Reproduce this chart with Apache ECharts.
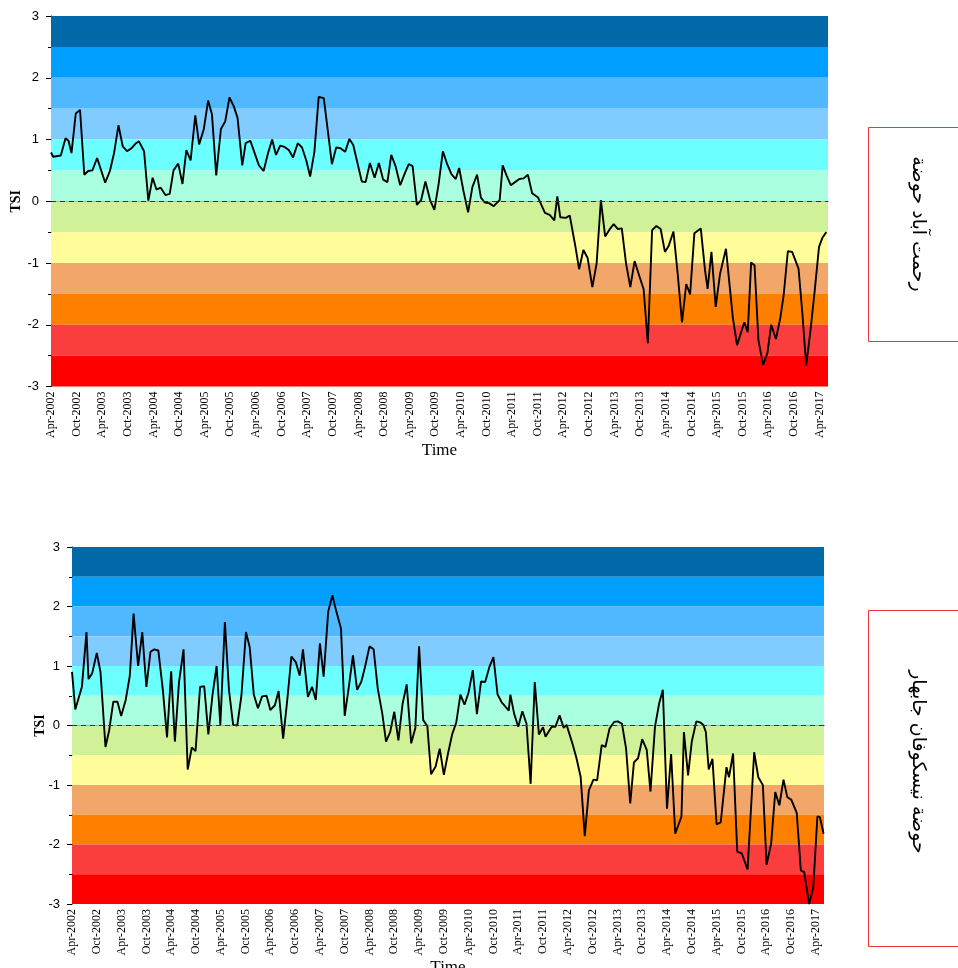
<!DOCTYPE html>
<html><head><meta charset="utf-8">
<script src="https://cdn.jsdelivr.net/npm/echarts@6/dist/echarts.min.js"></script>
<style>html,body{margin:0;padding:0;background:#fff}#c{width:958px;height:968px}</style>
</head><body><div id="c"></div>
<script>
// X tick labels every 6 months starting Apr-2002 (x values are months since Apr-2002)
const tickLabels = ['Apr-2002','Oct-2002','Apr-2003','Oct-2003','Apr-2004','Oct-2004','Apr-2005','Oct-2005','Apr-2006','Oct-2006','Apr-2007','Oct-2007','Apr-2008','Oct-2008','Apr-2009','Oct-2009','Apr-2010','Oct-2010','Apr-2011','Oct-2011','Apr-2012','Oct-2012','Apr-2013','Oct-2013','Apr-2014','Oct-2014','Apr-2015','Oct-2015','Apr-2016','Oct-2016','Apr-2017'];

// Drought classes (TSI bands)
const bandLow  = [2.5, 2, 1.5, 1, 0.5, 0, -0.5, -1, -1.5, -2, -2.5, -3];
const bandHigh = [3, 2.5, 2, 1.5, 1, 0.5, 0, -0.5, -1, -1.5, -2, -2.5];
const bandColors = ['#0169A8','#009FFF','#4FB8FF','#80CCFF','#6CFFFF','#AAFFE0','#D0F197','#FFFD99','#F2A66A','#FF8000','#FA3E3E','#FF0000'];

// Basin names
const topTitle = 'رحمت آباد حوضة';
const bottomTitle = 'حوضة نيسكوفان جابهار';

// Top basin: months since Apr-2002, TSI values
const topMonths = [0,0.5,2.3,3.4,4.1,4.8,5.8,6.8,7.8,8.7,
 9.7,10.8,12.7,13.8,14.8,15.8,16.8,17.8,18.9,19.9,
 20.6,21.8,22.8,23.8,24.7,25.7,26.8,27.8,28.7,29.8,
 30.8,31.7,32.7,33.8,34.7,35.8,36.8,37.7,38.7,39.8,
 40.8,41.8,42.8,43.7,44.8,45.6,46.7,47.7,48.7,49.8,
 50.8,51.8,52.7,53.7,54.7,55.7,56.7,57.8,58.8,59.8,
 60.7,61.7,62.7,63.9,65.8,66.8,67.8,68.9,69.9,70.8,
 72.8,73.7,74.7,75.8,76.8,77.8,78.8,79.7,80.7,81.8,
 82.8,83.8,84.7,85.7,86.7,87.7,88.8,89.8,90.8,91.8,
 92.8,93.8,94.8,95.6,96.6,97.7,98.7,99.8,100.7,101.6,
 102.6,103.7,105.1,105.8,106.7,107.7,108.7,109.7,110.7,111.7,
 112.7,114.1,115.7,116.8,117.9,118.6,119.3,120.6,121.5,122.8,
 123.7,124.7,125.7,126.8,127.8,128.8,129.8,130.8,131.8,132.8,
 133.7,134.7,135.7,136.7,137.9,138.8,139.8,140.8,141.8,142.8,
 143.8,144.7,145.8,146.8,147.8,148.8,149.7,150.7,152.2,153.2,
 153.8,154.7,155.7,156.7,158.1,159.7,160.7,162.4,163.2,164.0,
 164.8,165.7,166.8,167.8,168.7,169.8,170.8,171.6,172.6,173.6,
 175.1,176.0,176.9,177.9,178.9,179.9,180.7,181.6];
const topTSI = [0.79,0.72,0.74,1.02,0.98,0.78,1.42,1.48,0.43,0.49,
 0.50,0.70,0.30,0.49,0.79,1.23,0.89,0.81,0.86,0.94,
 0.97,0.81,0.01,0.38,0.19,0.22,0.10,0.12,0.50,0.61,
 0.28,0.83,0.66,1.39,0.92,1.17,1.63,1.41,0.42,1.17,
 1.29,1.68,1.54,1.35,0.58,0.94,0.98,0.78,0.58,0.49,
 0.77,1.00,0.75,0.90,0.88,0.83,0.71,0.94,0.87,0.66,
 0.40,0.80,1.69,1.67,0.60,0.87,0.86,0.80,1.01,0.91,
 0.32,0.31,0.62,0.38,0.62,0.35,0.31,0.75,0.57,0.26,
 0.44,0.60,0.57,-0.06,0.02,0.32,0.02,-0.14,0.28,0.81,
 0.60,0.44,0.36,0.54,0.17,-0.18,0.23,0.43,0.06,-0.02,
 -0.03,-0.08,0.02,0.58,0.42,0.26,0.31,0.36,0.37,0.43,
 0.13,0.06,-0.19,-0.22,-0.31,0.08,-0.26,-0.27,-0.23,-0.72,
 -1.10,-0.79,-0.92,-1.39,-1.01,0.02,-0.57,-0.46,-0.37,-0.45,
 -0.44,-1.01,-1.39,-0.97,-1.23,-1.42,-2.30,-0.47,-0.40,-0.45,
 -0.82,-0.72,-0.49,-1.18,-1.96,-1.34,-1.51,-0.52,-0.44,-1.12,
 -1.42,-0.82,-1.71,-1.18,-0.77,-1.88,-2.33,-1.96,-2.12,-0.99,
 -1.04,-2.25,-2.65,-2.46,-2.00,-2.23,-1.90,-1.53,-0.81,-0.82,
 -1.09,-1.82,-2.66,-2.09,-1.44,-0.74,-0.59,-0.50];

// Bottom basin: months since Apr-2002, TSI values
const botMonths = [0,0.8,2.4,3.5,4.0,4.9,6.0,6.9,8.1,9.0,
 10.0,11.0,11.9,13.0,14.0,14.9,16.0,17.0,18.0,19.0,
 19.9,20.9,22.0,23.0,24.0,24.9,25.9,27.0,28.0,29.0,
 29.9,31.0,32.0,33.0,34.0,35.0,35.9,37.0,38.0,39.0,
 40.0,41.0,42.1,43.0,44.0,45.0,46.0,47.1,48.0,49.1,
 50.0,51.1,52.1,53.1,54.2,55.1,55.9,57.1,58.1,59.0,
 60.0,60.9,62.0,63.0,64.0,65.1,66.0,67.0,68.0,69.0,
 70.0,70.9,72.0,73.0,74.0,75.1,76.0,77.0,78.0,79.0,
 80.0,81.0,82.1,83.1,84.0,85.0,86.0,86.9,88.0,89.0,
 90.0,91.0,92.0,93.0,94.0,95.0,96.0,97.0,98.0,99.0,
 100.0,101.0,102.0,103.0,104.0,105.0,105.7,106.1,107.0,108.0,
 109.0,110.0,111.0,112.0,113.0,114.0,114.6,116.1,117.0,118.0,
 119.0,119.7,121.1,122.1,123.1,124.1,125.1,126.2,127.1,128.2,
 129.1,130.1,131.2,132.1,133.1,134.1,135.1,136.0,137.0,138.0,
 139.1,140.0,141.1,142.1,143.0,144.0,145.0,146.0,147.5,148.1,
 149.1,150.0,151.1,152.1,152.8,153.4,154.1,155.0,156.0,157.0,
 158.4,159.0,160.0,161.0,162.1,163.5,165.1,166.1,167.2,168.1,
 169.2,170.2,171.2,172.2,173.1,174.1,175.4,176.4,177.2,178.4,
 179.4,180.4,181.0,181.9];
const botTSI = [0.90,0.27,0.65,1.57,0.78,0.88,1.22,0.90,-0.36,-0.08,
 0.40,0.40,0.16,0.43,0.84,1.88,1.00,1.57,0.65,1.24,
 1.28,1.26,0.59,-0.20,0.91,-0.27,0.73,1.28,-0.74,-0.37,
 -0.43,0.65,0.66,-0.15,0.51,1.00,0.01,1.74,0.59,0.01,
 0.00,0.50,1.57,1.32,0.52,0.29,0.49,0.50,0.26,0.34,
 0.58,-0.22,0.43,1.16,1.06,0.84,1.28,0.48,0.65,0.43,
 1.38,0.82,1.91,2.19,1.91,1.63,0.16,0.65,1.18,0.60,
 0.73,0.98,1.33,1.28,0.62,0.20,-0.27,-0.11,0.23,-0.25,
 0.36,0.69,-0.30,-0.04,1.33,0.09,-0.01,-0.82,-0.69,-0.39,
 -0.83,-0.47,-0.15,0.05,0.52,0.35,0.56,0.93,0.19,0.74,
 0.73,0.98,1.15,0.52,0.39,0.31,0.25,0.52,0.20,-0.02,
 0.24,0.03,-0.98,0.73,-0.15,-0.03,-0.19,-0.02,-0.02,0.17,
 -0.04,0.01,-0.30,-0.55,-0.86,-1.86,-1.09,-0.91,-0.92,-0.33,
 -0.36,-0.05,0.06,0.07,0.03,-0.39,-1.31,-0.62,-0.55,-0.23,
 -0.41,-1.11,-0.02,0.37,0.60,-1.40,-0.48,-1.82,-1.53,-0.11,
 -0.84,-0.27,0.07,0.05,0.01,-0.11,-0.74,-0.56,-1.66,-1.63,
 -0.70,-0.87,-0.47,-2.12,-2.15,-2.42,-0.45,-0.87,-1.00,-2.34,
 -1.99,-1.12,-1.34,-0.91,-1.20,-1.25,-1.47,-2.44,-2.46,-3.00,
 -2.73,-1.53,-1.54,-1.82];

const tickMonths = tickLabels.map((_, i) => i * 6);

function xAxisCfg(gi) {
  return {
    type: 'value', gridIndex: gi, min: 0, max: 182, interval: 6,
    name: 'Time', nameLocation: 'middle', nameGap: 55,
    nameTextStyle: { fontFamily: 'Liberation Serif', fontSize: 17, color: '#000' },
    axisLine: { show: true, lineStyle: { color: '#000', width: 1 } },
    axisTick: { show: true, inside: false, length: 5, customValues: tickMonths, lineStyle: { color: '#000' } },
    axisLabel: { rotate: 90, customValues: tickMonths, margin: 5, fontFamily: 'Liberation Serif', fontSize: 12, color: '#000',
      formatter: v => tickLabels[Math.round(v / 6)] || '' },
    splitLine: { show: false }
  };
}
function yAxisCfg(gi, gap) {
  return {
    type: 'value', gridIndex: gi, min: -3, max: 3, interval: 1,
    name: 'TSI', nameLocation: 'middle', nameGap: gap, nameRotate: 90, nameMoveOverlap: false,
    nameTextStyle: { fontFamily: 'Liberation Serif', fontWeight: 'bold', fontSize: 14, color: '#000' },
    axisLine: { show: true, lineStyle: { color: '#000', width: 1 } },
    axisTick: { show: true, inside: false, length: 5, lineStyle: { color: '#000' } },
    minorTick: { show: true, splitNumber: 2, length: 3, lineStyle: { color: '#000' } },
    axisLabel: { fontFamily: 'Liberation Sans', fontSize: 13, color: '#000', margin: 12 },
    splitLine: { show: false }
  };
}
function seriesCfg(gi, months, vals) {
  return {
    type: 'line', xAxisIndex: gi, yAxisIndex: gi,
    data: months.map((m, i) => [m, vals[i]]),
    symbol: 'none', showSymbol: false, silent: true, z: 3,
    lineStyle: { color: '#000', width: 1.9 },
    markArea: {
      silent: true, label: { show: false },
      data: bandLow.map((lo, i) => [
        { yAxis: lo, itemStyle: { color: bandColors[i], opacity: 1, borderWidth: 0 } },
        { yAxis: bandHigh[i] }
      ])
    },
    markLine: {
      silent: true, symbol: 'none', label: { show: false },
      lineStyle: { type: [5, 4], color: '#333', width: 1 },
      emphasis: { disabled: true },
      data: [{ yAxis: 0 }]
    }
  };
}

const chart = echarts.init(document.getElementById('c'), null, { renderer: 'canvas' });
chart.setOption({
  animation: false,
  backgroundColor: '#fff',
  grid: [
    { left: 51, top: 16, width: 777, height: 370.5, containLabel: false, outerBoundsMode: 'none' },
    { left: 72, top: 547, width: 752, height: 357, containLabel: false, outerBoundsMode: 'none' }
  ],
  xAxis: [xAxisCfg(0), xAxisCfg(1)],
  yAxis: [yAxisCfg(0, 28), yAxisCfg(1, 25)],
  series: [seriesCfg(0, topMonths, topTSI), seriesCfg(1, botMonths, botTSI)],
  graphic: [
    { type: 'rect', shape: { x: 868.5, y: 127.5, width: 100, height: 214 }, style: { fill: '#fff', stroke: '#E8383D', lineWidth: 1 } },
    { type: 'rect', shape: { x: 868.5, y: 610.5, width: 100, height: 336 }, style: { fill: '#fff', stroke: '#E8383D', lineWidth: 1 } },
    { type: 'text', x: 918, y: 224, rotation: -Math.PI / 2,
      style: { text: topTitle, fontFamily: 'DejaVu Sans', fontSize: 19, fill: '#000', align: 'center', verticalAlign: 'middle' } },
    { type: 'text', x: 918, y: 762, rotation: -Math.PI / 2,
      style: { text: bottomTitle, fontFamily: 'DejaVu Sans', fontSize: 19, fill: '#000', align: 'center', verticalAlign: 'middle' } }
  ]
});
</script>
</body></html>
